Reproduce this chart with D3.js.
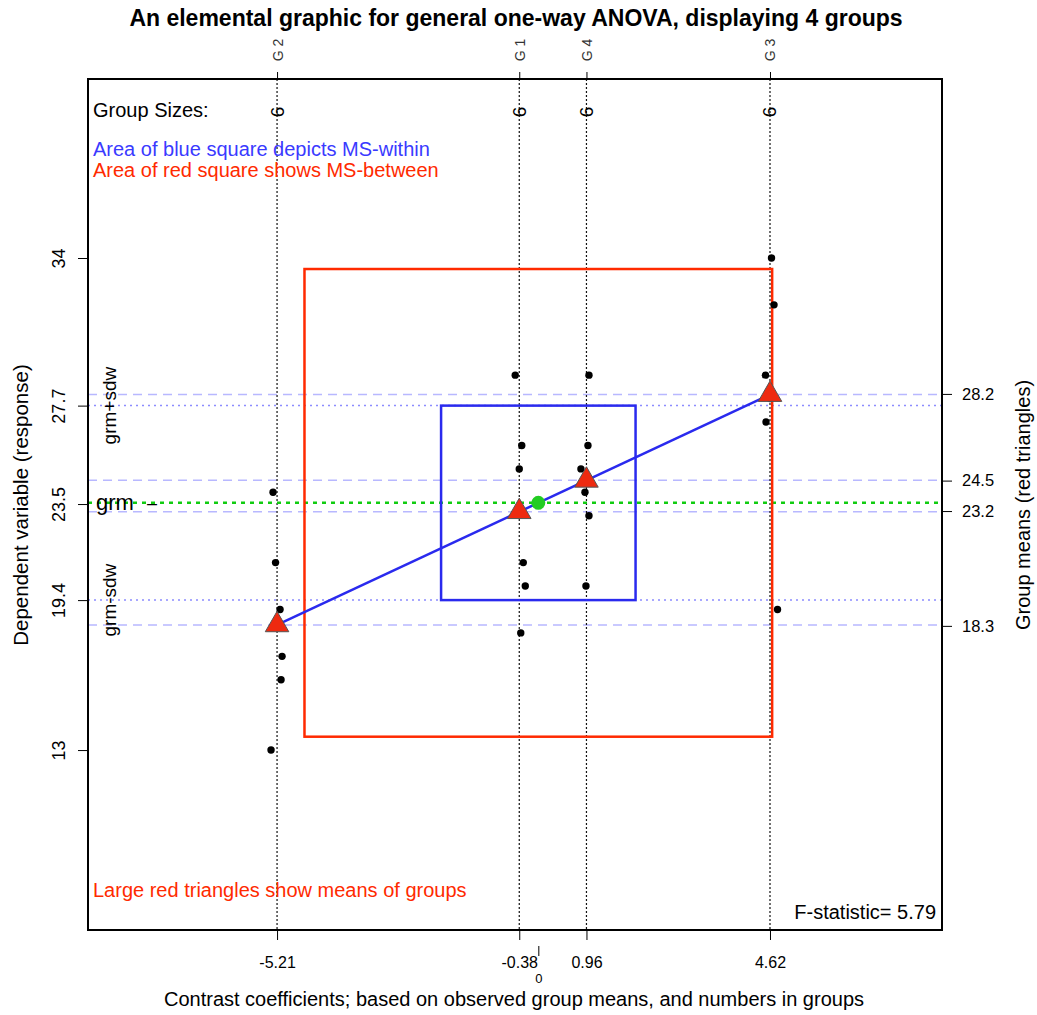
<!DOCTYPE html>
<html>
<head>
<meta charset="utf-8">
<script src="https://cdn.jsdelivr.net/npm/d3@7"></script>
<style>
  body { margin: 0; background: #fff; }
  text { font-family: "Liberation Sans", Arial, Helvetica, sans-serif; }
</style>
</head>
<body>
<svg id="chart" width="1037" height="1015"></svg>
<script>
// groups, in data order
var groups = ["G 1", "G 2", "G 3", "G 4"];
var contrasts = [-0.38, -5.21, 4.62, 0.96];
var groupMeans = [23.17, 18.34, 28.17, 24.51];
var groupSizes = [6, 6, 6, 6];

// observations per group, with the small horizontal jitter (contrast units)
var g1Values = [29, 26, 25, 21, 20, 18];
var g1Jitter = [-0.08, 0.05, 0, 0.08, 0.12, 0.03];
var g2Values = [24, 21, 19, 17, 16, 13];
var g2Jitter = [-0.08, -0.03, 0.06, 0.1, 0.08, -0.12];
var g3Values = [34, 32, 29, 28, 27, 19];
var g3Jitter = [0.03, 0.08, -0.09, 0, -0.08, 0.15];
var g4Values = [29, 26, 25, 24, 23, 20];
var g4Jitter = [0.05, 0.03, -0.11, -0.03, 0.05, -0.01];

var grandMean = 23.55;
var sdWithin = 4.15;
var sdBetween = 9.98;
var fStatistic = 5.79;

var leftTicks = [13, 19.4, 23.5, 27.7, 34];
var rightTicks = [18.3, 23.2, 24.5, 28.2];

var box = { left: 88, right: 942, top: 79, bottom: 930 };

var svg = d3.select("#chart");

var x = d3.scaleLinear().domain([-8.98, 8.05]).range([box.left, box.right]);
var y = d3.scaleLinear().domain([5.32, 41.64]).range([box.bottom, box.top]);

var values = [g1Values, g2Values, g3Values, g4Values];
var jitters = [g1Jitter, g2Jitter, g3Jitter, g4Jitter];
var points = [];
values.forEach((vals, i) => {
  vals.forEach((v, j) => {
    points.push({ x: contrasts[i] + jitters[i][j], y: v });
  });
});

var groupData = groups.map((g, i) => {
  return { name: g, c: contrasts[i], m: groupMeans[i], n: groupSizes[i] };
});

// R prints a plain hyphen for negatives
function plain(digits) {
  return (d) => (digits == null ? String(d) : d.toFixed(digits));
}

function styleTicks(g, size) {
  g.select(".domain").remove();
  g.selectAll(".tick line").attr("stroke", "#000");
  g.selectAll(".tick text").style("font-size", size + "px").attr("fill", "#000");
}

// horizontal reference lines
var plot = svg.append("g");
plot.selectAll("line.mean")
  .data(groupMeans)
  .join("line")
  .attr("class", "mean")
  .attr("x1", box.left).attr("x2", box.right)
  .attr("y1", (d) => y(d)).attr("y2", (d) => y(d))
  .attr("stroke", "#b8b8ff").attr("stroke-width", 1.5)
  .attr("stroke-dasharray", "9,6");

plot.selectAll("line.sdw")
  .data([grandMean - sdWithin, grandMean + sdWithin])
  .join("line")
  .attr("class", "sdw")
  .attr("x1", box.left).attr("x2", box.right)
  .attr("y1", (d) => y(d)).attr("y2", (d) => y(d))
  .attr("stroke", "#8c8cff").attr("stroke-width", 1.5)
  .attr("stroke-dasharray", "2,4");

// vertical dotted lines at the contrasts
plot.selectAll("line.grp")
  .data(groupData)
  .join("line")
  .attr("class", "grp")
  .attr("x1", (d) => x(d.c)).attr("x2", (d) => x(d.c))
  .attr("y1", box.top).attr("y2", box.bottom)
  .attr("stroke", "#111").attr("stroke-width", 1.2)
  .attr("stroke-dasharray", "2,2");

// grand mean line
plot.append("line")
  .attr("x1", box.left).attr("x2", box.right)
  .attr("y1", y(grandMean)).attr("y2", y(grandMean))
  .attr("stroke", "#11cc11").attr("stroke-width", 2.5)
  .attr("stroke-dasharray", "4,5");

// squares: MS-between (red) and MS-within (blue)
var squares = [
  { half: sdBetween, color: "#ff2a00" },
  { half: sdWithin, color: "#2a2aee" }
];
function halfPx(d) {
  return y(grandMean - d.half) - y(grandMean);
}
plot.selectAll("rect.sq")
  .data(squares)
  .join("rect")
  .attr("class", "sq")
  .attr("x", (d) => x(0) - halfPx(d))
  .attr("y", (d) => y(grandMean + d.half))
  .attr("width", (d) => 2 * halfPx(d))
  .attr("height", (d) => 2 * halfPx(d))
  .attr("fill", "none")
  .attr("stroke", (d) => d.color)
  .attr("stroke-width", 2.5);

// data points
plot.selectAll("circle.pt")
  .data(points)
  .join("circle")
  .attr("class", "pt")
  .attr("cx", (d) => x(d.x))
  .attr("cy", (d) => y(d.y))
  .attr("r", 3.7)
  .attr("fill", "#000");

// line through the group means
var ends = [d3.least(groupData, (d) => d.c), d3.greatest(groupData, (d) => d.c)];
plot.append("line")
  .attr("x1", x(ends[0].c)).attr("y1", y(ends[0].m))
  .attr("x2", x(ends[1].c)).attr("y2", y(ends[1].m))
  .attr("stroke", "#2a2aee").attr("stroke-width", 2.5);

// grand mean dot
plot.append("circle")
  .attr("cx", x(0)).attr("cy", y(grandMean))
  .attr("r", 7).attr("fill", "#22cc22");

// red triangles at the group means
plot.selectAll("path.tri")
  .data(groupData)
  .join("path")
  .attr("class", "tri")
  .attr("transform", (d) => "translate(" + x(d.c) + "," + y(d.m) + ")")
  .attr("d", d3.symbol().type(d3.symbolTriangle).size(240))
  .attr("fill", "#ee2a10")
  .attr("stroke", "#555")
  .attr("stroke-width", 1);

// frame
svg.append("rect")
  .attr("x", box.left).attr("y", box.top)
  .attr("width", box.right - box.left).attr("height", box.bottom - box.top)
  .attr("fill", "none").attr("stroke", "#000").attr("stroke-width", 2);

// left axis
var leftAxis = svg.append("g").attr("transform", "translate(" + box.left + ",0)");
leftAxis.call(d3.axisLeft(y).tickValues(leftTicks).tickSize(10).tickFormat(plain()));
styleTicks(leftAxis, 18);
leftAxis.selectAll(".tick text")
  .attr("x", 0).attr("dy", 0)
  .attr("transform", "translate(-29.5,0) rotate(-90)")
  .attr("text-anchor", "middle")
  .attr("dominant-baseline", "central");

// right axis
var rightAxis = svg.append("g").attr("transform", "translate(" + box.right + ",0)");
rightAxis.call(d3.axisRight(y).tickValues(rightTicks).tickSize(10).tickFormat(plain(1)));
styleTicks(rightAxis, 16.5);
rightAxis.selectAll(".tick text").attr("x", 20);

// bottom axis
var bottomAxis = svg.append("g").attr("transform", "translate(0," + box.bottom + ")");
bottomAxis.call(d3.axisBottom(x).tickValues(contrasts).tickSize(10).tickFormat(plain(2)));
styleTicks(bottomAxis, 16);
bottomAxis.selectAll(".tick text").attr("y", 27);

// the zero mark under the bottom axis
var zeroAxis = svg.append("g").attr("transform", "translate(0," + (box.bottom + 16) + ")");
zeroAxis.call(d3.axisBottom(x).tickValues([0]).tickSize(10).tickFormat(plain()));
styleTicks(zeroAxis, 13);
zeroAxis.selectAll(".tick text").attr("y", 28);

// top axis: group names
var topAxis = svg.append("g").attr("transform", "translate(0," + box.top + ")");
topAxis.call(d3.axisTop(x).tickValues(contrasts).tickSize(7).tickFormat((d, i) => groups[i]));
styleTicks(topAxis, 14);
topAxis.selectAll(".tick text")
  .attr("y", 0).attr("dy", 0)
  .attr("transform", "translate(0,-29) rotate(-90)")
  .attr("text-anchor", "middle")
  .attr("dominant-baseline", "central")
  .attr("fill", "#333");

// group sizes
svg.selectAll("text.n")
  .data(groupData)
  .join("text")
  .attr("class", "n")
  .attr("transform", (d) => "translate(" + x(d.c) + ",112) rotate(-90)")
  .attr("text-anchor", "middle")
  .attr("dominant-baseline", "central")
  .attr("font-size", 19)
  .text((d) => d.n);

// texts inside the frame
var notes = [
  { t: "Group Sizes:", x: 93, y: 117, c: "#000" },
  { t: "Area of blue square depicts MS-within", x: 93, y: 156, c: "#3a3aff" },
  { t: "Area of red square shows MS-between", x: 93, y: 177, c: "#ff2a00" },
  { t: "Large red triangles show means of groups", x: 93, y: 897, c: "#ff2a00" }
];
svg.selectAll("text.note")
  .data(notes)
  .join("text")
  .attr("class", "note")
  .attr("x", (d) => d.x).attr("y", (d) => d.y)
  .attr("font-size", 20)
  .attr("fill", (d) => d.c)
  .text((d) => d.t);

svg.append("text")
  .attr("x", 936).attr("y", 919)
  .attr("text-anchor", "end")
  .attr("font-size", 20)
  .text("F-statistic= " + fStatistic);

// grm labels
svg.append("text")
  .attr("x", 96).attr("y", y(grandMean))
  .attr("dominant-baseline", "central")
  .attr("font-size", 22)
  .text("grm");
svg.append("text")
  .attr("x", 147).attr("y", y(grandMean))
  .attr("dominant-baseline", "central")
  .attr("font-size", 18)
  .text("–");
svg.selectAll("text.sdw")
  .data([
    { t: "grm+sdw", v: grandMean + sdWithin },
    { t: "grm-sdw", v: grandMean - sdWithin }
  ])
  .join("text")
  .attr("class", "sdw")
  .attr("transform", (d) => "translate(109," + y(d.v) + ") rotate(-90)")
  .attr("text-anchor", "middle")
  .attr("dominant-baseline", "central")
  .attr("font-size", 19)
  .text((d) => d.t);

// titles
svg.append("text")
  .attr("x", 516).attr("y", 26)
  .attr("text-anchor", "middle")
  .attr("font-size", 23).attr("font-weight", "bold")
  .text("An elemental graphic for general one-way ANOVA, displaying 4 groups");

svg.append("text")
  .attr("x", 514).attr("y", 1006)
  .attr("text-anchor", "middle")
  .attr("font-size", 20)
  .text("Contrast coefficients; based on observed group means, and numbers in groups");

svg.append("text")
  .attr("transform", "translate(20,505) rotate(-90)")
  .attr("text-anchor", "middle")
  .attr("dominant-baseline", "central")
  .attr("font-size", 20.5)
  .text("Dependent variable (response)");

svg.append("text")
  .attr("transform", "translate(1023,505) rotate(-90)")
  .attr("text-anchor", "middle")
  .attr("dominant-baseline", "central")
  .attr("font-size", 20)
  .text("Group means (red triangles)");
</script>
</body>
</html>
